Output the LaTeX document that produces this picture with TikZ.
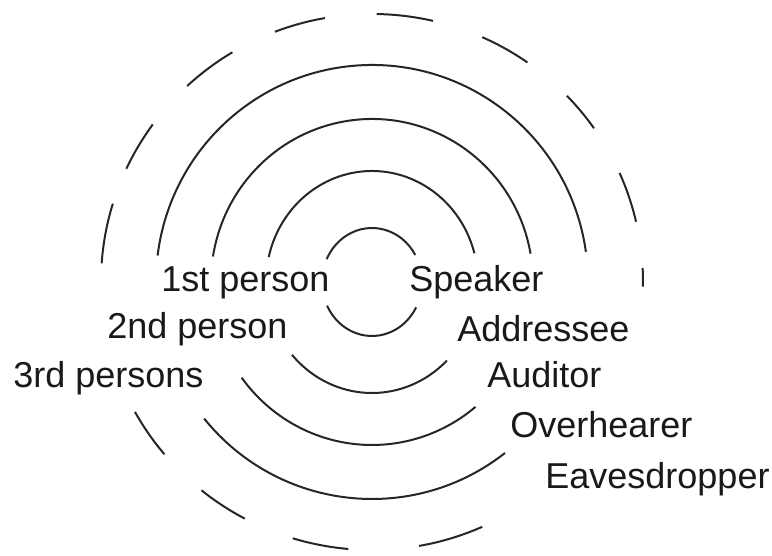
\documentclass[tikz,border=0pt]{standalone}
\usepackage{fontspec}
\setmainfont{Liberation Sans}
\usetikzlibrary{positioning}

\begin{document}
\begin{tikzpicture}[
    x=0.5pt, y=0.5pt,
    every node/.style={font=\fontsize{18}{21}\selectfont, inner sep=0pt, text=black!90},
    ring/.style={line width=1pt, draw=black!85},
    outer/.style={line width=1pt, draw=black!85},
    role/.style={anchor=base west}
]
\useasboundingbox (0,0) rectangle (772,556);
\coordinate (c) at (372,274);

% --- Solid rings (x radius / y radius / upper arc / lower arc) ---
\foreach \rx/\ry/\ua/\ub/\la/\lb in {50/54/30/155/206/332, 106/111/15/167/221/315,
                                      161/163/10/171/216/310, 216/217/8/173/219/308} {
  \draw[ring] ([shift={({\rx*cos(\ua)},{\ry*sin(\ua)})}]c) arc[start angle=\ua, end angle=\ub, x radius=\rx, y radius=\ry];
  \draw[ring] ([shift={({\rx*cos(\la)},{\ry*sin(\la)})}]c) arc[start angle=\la, end angle=\lb, x radius=\rx, y radius=\ry];
}

% --- Dashed outer ring ---
\foreach \a/\b in {-1/3, 13/24, 35/44, 55/66, 77/89, 100/111, 121/133, 144/155,
                   163/176, 209/220, 231/242, 253/265, 280/294}
  \draw[outer] ([shift={({271*cos(\a)},{268*sin(\a)})}]c) arc[start angle=\a, end angle=\b, x radius=271, y radius=268];

% --- Labels ---
\node[role] (first)   at (161,264) {1st person};
\node[role] (speaker) at (409,264) {Speaker};
\node[role] (second)  at (107,217) {2nd person};
\node[role] (addr)    at (457,214) {Addressee};
\node[role] (third)   at (13,168)  {3rd persons};
\node[role] (aud)     at (487,168) {Auditor};
\node[role] (over)    at (510,118) {Overhearer};
\node[role] (eaves)   at (545,67)  {Eavesdropper};

\end{tikzpicture}
\end{document}
